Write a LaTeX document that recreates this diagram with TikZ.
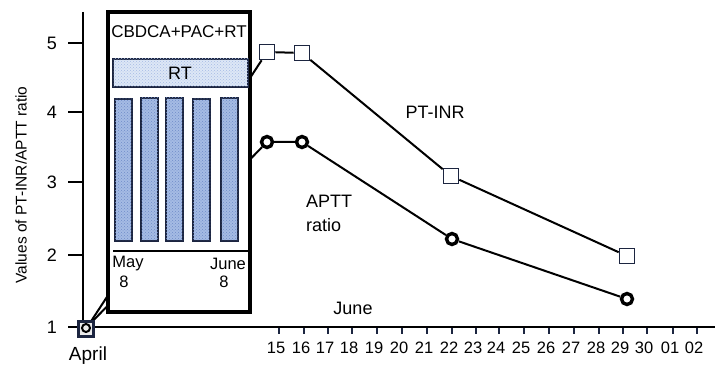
\documentclass[tikz,border=0pt]{standalone}
\usepackage{fontspec}
\setmainfont{Liberation Sans}
\usetikzlibrary{patterns}
\definecolor{navy}{HTML}{1C2540}
\definecolor{barblue}{HTML}{A5BBE4}
\definecolor{rtblue}{HTML}{DDE7F6}
\definecolor{dotblue}{HTML}{6F8CC8}
\begin{document}
\begin{tikzpicture}[x=1pt,y=-1pt,
  sq/.style={draw=navy, fill=white, line width=1.6pt, minimum size=15pt, inner sep=0pt},
  aprbox/.style={draw=navy, fill=black!8, line width=2.4pt, minimum size=15pt, inner sep=0pt},
  aprring/.style={circle, draw=black, line width=2pt, minimum size=8pt, inner sep=0pt},
  rg/.style={circle, draw=black, fill=white, line width=3.4pt, minimum size=11pt, inner sep=0pt},
  dataline/.style={line width=2pt, black},
  lbl/.style={font=\fontsize{18}{22}\selectfont, inner sep=0pt},
  ticklbl/.style={font=\fontsize{16.5}{20}\selectfont, inner sep=0pt},
  bar/.style={draw=navy, line width=1.6pt, fill=barblue, postaction={pattern=crosshatch dots, pattern color=dotblue}},
  band/.style={draw=navy, line width=1.4pt, fill=rtblue, postaction={pattern=crosshatch dots, pattern color=barblue}}]
\useasboundingbox (0,0) rectangle (715,366);
% axes
\draw[line width=2.4pt] (83,12) -- (83,328);
\draw[line width=2pt] (82,327) -- (715,327);
\foreach \y/\v in {43/5,112/4,182/3,255/2,327/1}{
  \draw[line width=2pt] (68,\y) -- (83,\y);
  \node[font=\fontsize{18}{22}\selectfont] at (52,\y) {\v};
}
\node[rotate=90, font=\fontsize{15.5}{18}\selectfont] at (21,185) {Values of PT-INR/APTT ratio};
\foreach \x/\l in {279/15,304/16,328/17,352/18,377/19,402/20,427/21,452/22,476/23,499/24,524/25,549/26,574/27,599/28,623/29,647/30,673/01,697/02}{
  \draw[navy, line width=1.6pt] (\x,328) -- (\x,334);
  \node[ticklbl] at (\x-3,348) {\l};
}
\node[lbl] at (353,308) {June};
\node[font=\fontsize{19}{22}\selectfont] at (88,356) {April};
% markers
\node[aprbox] (aprsq) at (86,329) {};
\node[aprring] (aprc) at (86,328) {};
\node[sq] (p15) at (267,52) {};
\node[sq] (p16) at (302,53) {};
\node[sq] (p22) at (451,176) {};
\node[sq] (p29) at (627,256) {};
\node[rg] (a15) at (267,142) {};
\node[rg] (a16) at (302,142) {};
\node[rg] (a22) at (452,239) {};
\node[rg] (a29) at (627,299) {};
% lines under the box
\draw[dataline] (aprsq.center) -- (p15);
\draw[dataline] (aprc.center) -- (a15);
\node[aprbox] at (86,329) {};
\node[aprring] at (86,328) {};
% treatment box
\draw[line width=3.5pt, fill=white] (108,12) rectangle (250,312);
\node[font=\fontsize{17}{20}\selectfont] (cb) at (179,32) {CBDCA+PAC+RT};
\draw[band] (113,59) rectangle (248,87);
\node[lbl] (rt) at (180,73) {RT};
\foreach \a/\t in {115/99,141/98,166/98,193/99,221/98}{
  \draw[bar] (\a,\t) rectangle (\a+17,241);
}
\draw[line width=1.5pt] (113,251) -- (248,251);
\node[font=\fontsize{16.5}{20}\selectfont] at (128,264) {May};
\node[font=\fontsize{16.5}{20}\selectfont] at (124,282) {8};
\node[font=\fontsize{16.5}{20}\selectfont] at (228,264) {June};
\node[font=\fontsize{16.5}{20}\selectfont] at (224,282) {8};
% data lines
\draw[dataline] (p15) -- (p16) -- (p22) -- (p29);
\draw[dataline] (a15) -- (a16) -- (a22) -- (a29);
\node[lbl] at (435,112) {PT-INR};
\node[lbl, align=left, anchor=west] at (306,213) {APTT\\[2pt]ratio};
\end{tikzpicture}
\end{document}
